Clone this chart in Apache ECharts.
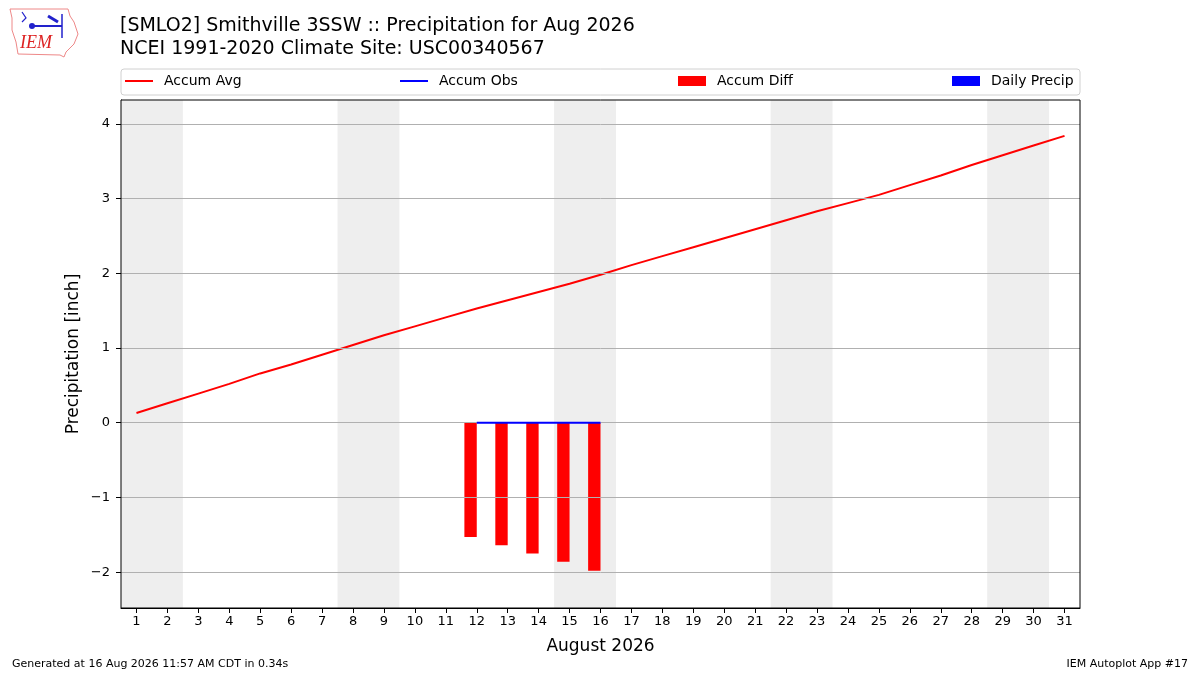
<!DOCTYPE html>
<html><head><meta charset="utf-8">
<script src="https://cdn.jsdelivr.net/npm/echarts@6/dist/echarts.min.js"></script>
<style>html,body{margin:0;padding:0;background:#fff}#c{width:1200px;height:675px}</style>
</head><body><div id="c"></div>
<script>
const days = [1,2,3,4,5,6,7,8,9,10,11,12,13,14,15,16,17,18,19,20,21,22,23,24,25,26,27,28,29,30,31];
const accumAvg = [0.13,0.26,0.39,0.52,0.66,0.78,0.91,1.04,1.17,1.29,1.41,1.53,1.64,1.75,1.86,1.98,2.11,2.23,2.35,2.47,2.59,2.71,2.83,2.94,3.05,3.18,3.31,3.45,3.58,3.71,3.84];
const obsDays = [12,13,14,15,16];
const accumObs = [0,0,0,0,0];
const accumDiff = [-1.53,-1.64,-1.75,-1.86,-1.98];
const dailyPrecip = [0,0,0,0,0];
const weekends = [[0.5,2.5],[7.5,9.5],[14.5,16.5],[21.5,23.5],[28.5,30.5]];
const yTicks = [-2,-1,0,1,2,3,4];
const xTicks = days;

const FONT = 'DejaVu Sans';
const chart = echarts.init(document.getElementById('c'));

function makeBar(color, offset) {
  return function (params, api) {
    const x = api.value(0), v = api.value(1);
    const a = api.coord([x + offset[0], 0]);
    const b = api.coord([x + offset[1], v]);
    return {
      type: 'rect',
      shape: { x: Math.min(a[0], b[0]), y: Math.min(a[1], b[1]), width: Math.abs(b[0] - a[0]), height: Math.abs(b[1] - a[1]) },
      style: { fill: color }
    };
  };
}

function legendItem(name, left, icon, h) {
  return {
    show: true, left: left, top: 74, padding: 0, itemWidth: 28, itemHeight: h, icon: icon,
    data: [{ name: name, icon: icon }],
    textStyle: { fontFamily: FONT, fontSize: 14, color: '#000', padding: [0, 0, 0, 6] },
    selectedMode: false
  };
}

chart.setOption({
  animation: false,
  backgroundColor: '#fff',
  textStyle: { fontFamily: FONT },
  title: [
    { text: '[SMLO2] Smithville 3SSW :: Precipitation for Aug 2026\nNCEI 1991-2020 Climate Site: USC00340567',
      left: 120, top: 15, padding: 0,
      textStyle: { fontFamily: FONT, fontSize: 19, fontWeight: 'normal', color: '#000', lineHeight: 23 } }
  ],
  legend: [
    legendItem('Accum Avg', 125, 'rect', 2),
    legendItem('Accum Obs', 400, 'rect', 2),
    legendItem('Accum Diff', 678, 'rect', 10),
    legendItem('Daily Precip', 952, 'rect', 10)
  ],
  graphic: [
    { type: 'rect', shape: { x: 121, y: 69, width: 959, height: 26, r: 3 }, style: { fill: 'rgba(255,255,255,0.8)', stroke: '#d0d0d0', lineWidth: 1 }, z: -1 },
    { type: 'rect', shape: { x: 121, y: 100, width: 959, height: 508 }, style: { fill: 'none', stroke: '#000', lineWidth: 1 }, z: 100 },
    { type: 'polygon', shape: { points: [[10,9],[68,9],[70,16],[74,22],[78,34],[74,44],[66,52],[64,57],[60,55],[18,54],[16,42],[12,30],[12,18]] },
      style: { fill: 'none', stroke: '#e88', lineWidth: 1 } },
    { type: 'text', left: 20, top: 34, style: { text: 'IEM', font: 'italic 18px "Liberation Serif"', fill: '#d22' } },
    { type: 'polyline', shape: { points: [[30,26],[62,26]] }, style: { stroke: '#22c', lineWidth: 2 } },
    { type: 'polyline', shape: { points: [[62,14],[62,38]] }, style: { stroke: '#22c', lineWidth: 1.5 } },
    { type: 'polyline', shape: { points: [[48,16],[58,22]] }, style: { stroke: '#22c', lineWidth: 3 } },
    { type: 'circle', shape: { cx: 32, cy: 26, r: 3 }, style: { fill: '#22c' } },
    { type: 'polyline', shape: { points: [[22,12],[26,18],[22,22]] }, style: { stroke: '#22c', lineWidth: 1.2, fill: 'none' } },
    { type: 'text', left: 12, top: 659, style: { text: 'Generated at 16 Aug 2026 11:57 AM CDT in 0.34s', font: '11px "DejaVu Sans"', fill: '#000' } },
    { type: 'text', right: 12, top: 659, style: { text: 'IEM Autoplot App #17', font: '11px "DejaVu Sans"', fill: '#000' } }
  ],
  grid: { left: 121, right: 120, top: 100, bottom: 67, show: false },
  xAxis: {
    type: 'value', min: 0.5, max: 31.5,
    name: 'August 2026', nameLocation: 'middle', nameGap: 30,
    nameTextStyle: { fontFamily: FONT, fontSize: 17, color: '#000' },
    axisLine: { show: true, onZero: false, lineStyle: { color: '#000' } },
    axisTick: { show: true, length: 5, lineStyle: { color: '#000' }, customValues: xTicks },
    axisLabel: { show: true, color: '#000', fontFamily: FONT, fontSize: 13, margin: 7, customValues: xTicks },
    splitLine: { show: false }
  },
  yAxis: {
    type: 'value', min: -2.48, max: 4.32,
    name: 'Precipitation [inch]', nameLocation: 'middle', nameGap: 39, nameRotate: 90, nameMoveOverlap: false,
    nameTextStyle: { fontFamily: FONT, fontSize: 17, color: '#000' },
    axisLine: { show: true, onZero: false, lineStyle: { color: '#000' } },
    axisTick: { show: true, length: 5, lineStyle: { color: '#000' }, customValues: yTicks },
    axisLabel: { show: true, color: '#000', fontFamily: FONT, fontSize: 13, margin: 11, customValues: yTicks,
      formatter: v => (v < 0 ? '\u2212' + Math.abs(v) : String(v)) },
    splitLine: { show: false }
  },
  series: [
    { type: 'line', data: [], z: 0, silent: true,
      markArea: { silent: true, itemStyle: { color: '#eeeeee' }, data: weekends.map(w => [{ xAxis: w[0] }, { xAxis: w[1] }]) } },
    { type: 'line', data: [], z: 1, silent: true,
      markLine: { silent: true, symbol: 'none', label: { show: false }, lineStyle: { color: '#b0b0b0', width: 1, type: 'solid' },
        data: yTicks.map(v => ({ yAxis: v })) } },
    { name: 'Accum Avg', type: 'line', z: 3, showSymbol: false, symbol: 'none', color: '#ff0000',
      lineStyle: { color: '#ff0000', width: 2 }, data: days.map((d, i) => [d, accumAvg[i]]) },
    { name: 'Accum Diff', type: 'custom', z: 4, color: '#ff0000', renderItem: makeBar('#ff0000', [-0.4, 0]),
      encode: { x: 0, y: 1 }, data: obsDays.map((d, i) => [d, accumDiff[i]]) },
    { name: 'Daily Precip', type: 'custom', z: 4, color: '#0000ff', renderItem: makeBar('#0000ff', [0, 0.4]),
      encode: { x: 0, y: 1 }, data: obsDays.map((d, i) => [d, dailyPrecip[i]]) },
    { name: 'Accum Obs', type: 'line', z: 5, showSymbol: false, symbol: 'none', color: '#0000ff',
      lineStyle: { color: '#0000ff', width: 2 }, data: obsDays.map((d, i) => [d, accumObs[i]]) }
  ]
});
</script>
</body></html>
